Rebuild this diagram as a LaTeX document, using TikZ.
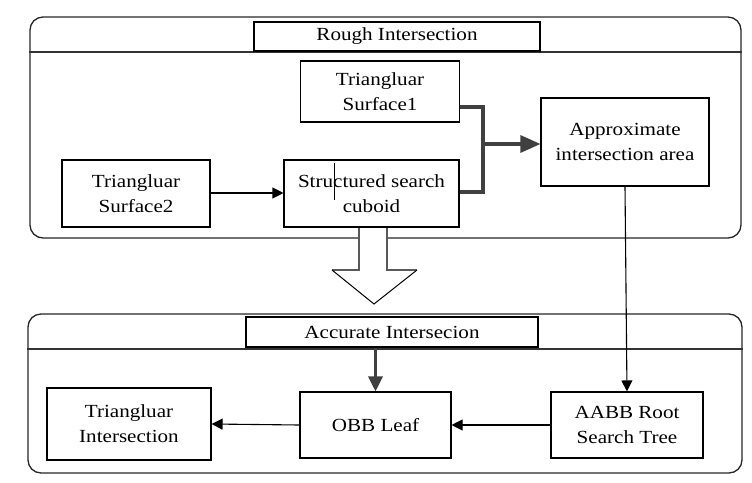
\documentclass[tikz,border=0pt]{standalone}
\usepackage{fontspec}
\setmainfont[FakeStretch=1.14]{Liberation Serif}
\usetikzlibrary{arrows.meta}
\begin{document}
\begin{tikzpicture}[x=1pt,y=-1pt,
  every node/.style={font=\fontsize{18.5}{25}\selectfont},
  panel/.style={draw=black!85, line width=1.3pt, rounded corners=13pt, inner sep=0pt},
  headline/.style={draw=black!80, line width=1.3pt},
  titlebox/.style={draw, line width=1.1pt, fill=white, inner sep=0pt, align=center},
  stepbox/.style={draw, line width=1.1pt, fill=white, inner sep=0pt, align=center},
  thin/.style={draw, line width=1.1pt, -{Triangle[length=11pt,width=11pt]}},
  bus/.style={draw=black!75, line width=3.2pt, line join=miter},
  busarrow/.style={bus, -{Triangle[length=20pt,width=17pt]}},
  downarrow/.style={bus, -{Triangle[length=15pt,width=14pt]}}
]
\useasboundingbox (0,0) rectangle (752,482);

% panels
\node[panel, minimum width=711pt, minimum height=221pt] (topc) at (385.5,127.5) {};
\node[panel, minimum width=714pt, minimum height=159pt] (botc) at (385,393.5) {};
\draw[headline] (topc.west |- 0,52) -- (topc.east |- 0,52);
\draw[headline] (botc.west |- 0,349) -- (botc.east |- 0,349);

% titles
\node[titlebox, minimum width=286pt, minimum height=29pt] (roughT) at (397,36.5) {Rough Intersection};
\node[titlebox, minimum width=292pt, minimum height=30pt] (accT) at (392,332) {Accurate Intersecion};

% rough stage
\node[stepbox, minimum width=159pt, minimum height=61pt] (s1) at (380,91.5) {Triangluar\\Surface1};
\node[stepbox, minimum width=168pt, minimum height=88pt] (appr) at (625,142) {Approximate\\intersection area};
\node[stepbox, minimum width=148pt, minimum height=67pt] (s2) at (136,193.5) {Triangluar\\Surface2};
\node[stepbox, minimum width=175pt, minimum height=67pt] (ssc) at (371.5,193.5) {Structured search\\cuboid};
\draw[line width=0.8pt] (334,163) -- (334,200);

% accurate stage
\node[stepbox, minimum width=164pt, minimum height=72pt] (ti) at (129,424) {Triangluar\\Intersection};
\node[stepbox, minimum width=151pt, minimum height=66pt] (obb) at (375.5,425) {OBB Leaf};
\node[stepbox, minimum width=152pt, minimum height=66pt] (aabb) at (627,425) {AABB Root\\Search Tree};

% connectors
\draw[thin] (s2.east |- 0,193) -- (ssc.west |- 0,193);
\coordinate (j) at (483,144);
\draw[bus] (s1.east |- 0,107) -- (j |- 0,107) -- (j |- 0,192) -- (ssc.east |- 0,192);
\draw[busarrow] (j) -- (appr.west |- j);
\draw[thin] (appr.south) -- (aabb.north);
\draw[downarrow] (accT.south -| obb.north) -- (obb.north);
\draw[thin] (aabb.west) -- (obb.east);
\draw[thin] (obb.west) -- (ti.east);

% hollow transition arrow
\coordinate (sl) at (359,228);
\coordinate (sr) at (387,228);
\coordinate (tip) at (374,304);
\fill[white] (sl) -- (359,270) -- (332,270) -- (tip) -- (417,270) -- (387,270) -- (sr) -- cycle;
\draw[black!65, line width=1.8pt] (sl) -- (359,270.5);
\draw[black!65, line width=1.8pt] (sr) -- (387,270.5);
\draw[black!65, line width=1.1pt] (332,270) -- (359,270) (387,270) -- (417,270);
\draw[line width=1pt, line join=miter] (332,270) -- (tip) -- (417,270);
\end{tikzpicture}
\end{document}
